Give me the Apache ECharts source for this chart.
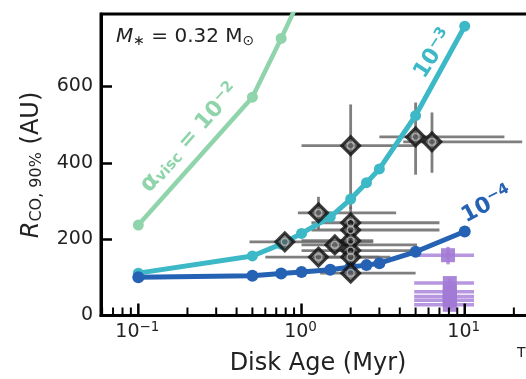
<!DOCTYPE html>
<html><head><meta charset="utf-8">
<script src="https://cdn.jsdelivr.net/npm/echarts@6/dist/echarts.min.js"></script>
<style>html,body{margin:0;padding:0;overflow:hidden;background:#fff}#c{width:560px;height:379px}</style>
</head><body><div id="c"></div>
<script>
// Viscous-evolution tracks: CO disk radius vs. disk age for three alpha values
const ageVisc2 = [0.1, 0.5, 0.75, 1.0];
const rVisc2 = [237, 572, 726, 840];
const ageModel = [0.1, 0.5, 0.75, 1.0, 1.5, 2.0, 2.5, 3.0, 5.0, 10];
const rVisc3 = [111, 156, 187, 215, 258, 305, 348, 384, 524, 758];
const rVisc4 = [100, 104, 110, 114, 120, 127, 132, 137, 167, 220];

// Observed disks (gray): age, radius and their error ranges
const obsAge   = [2.0, 5.0, 6.3, 1.27, 0.79, 1.6, 1.27, 2.0, 2.0, 2.0, 2.0, 2.0, 2.0];
const obsR     = [445, 468, 455, 269, 193, 185, 153, 243, 224, 196, 170, 153, 111];
const obsAgeLo = [1.0, 3.0, 4.2, 0.95, 0.48, 1.0, 0.6, 1.15, 1.15, 1.0, 1.0, 1.2, 1.3];
const obsAgeHi = [4.9, 17.5, 22.5, 3.8, 2.75, 5.1, 3.5, 7.0, 7.0, 2.75, 4.8, 3.0, 5.0];
const obsRLo   = [279, 369, 374, 225, 193, 185, 153, 200, 224, 196, 170, 153, 111];
const obsRHi   = [553, 558, 532, 311, 193, 185, 153, 285, 224, 196, 170, 153, 111];

// Older disks (purple)
const oldAge   = [7.9, 8.1, 8.1, 8.1, 8.1, 8.1];
const oldR     = [158, 85, 62, 50, 40, 28];
const oldAgeLo = [4.9, 4.9, 4.9, 4.9, 4.9, 4.9];
const oldAgeHi = [11.4, 11.4, 11.4, 11.4, 11.4, 11.4];
const oldRLo   = [134, 73, 50, 38, 28, 16];
const oldRHi   = [180, 97, 74, 62, 52, 40];

// Axis ticks
const xMajorTicks = [0.1, 1, 10];
const xMajorExp = ['\u22121', '0', '1'];
const xMinorTicks = [0.06, 0.07, 0.08, 0.09, 0.2, 0.3, 0.4, 0.5, 0.6, 0.7, 0.8, 0.9,
                     2, 3, 4, 5, 6, 7, 8, 9, 20];

const F = 'DejaVu Sans';
const GREEN = '#8fd4aa', CYAN = '#3db8c7', BLUE = '#2562b4';
const GRAY_BAR = 'rgba(105,105,105,0.85)', PURPLE = '#a27ad6';

function errorBars(color, width) {
  return function (params, api) {
    const x = api.value(0), y = api.value(1);
    const c = api.coord([x, y]);
    const xl = api.coord([api.value(2), y]);
    const xh = api.coord([api.value(3), y]);
    const yl = api.coord([x, api.value(4)]);
    const yh = api.coord([x, api.value(5)]);
    const st = { stroke: color, lineWidth: width };
    const kids = [{ type: 'line', shape: { x1: xl[0], y1: c[1], x2: xh[0], y2: c[1] }, style: st }];
    if (Math.abs(yl[1] - yh[1]) > 0.5) {
      kids.push({ type: 'line', shape: { x1: c[0], y1: yl[1], x2: c[0], y2: yh[1] }, style: st });
    }
    return { type: 'group', children: kids };
  };
}

const obsData = obsAge.map((a, i) => [a, obsR[i], obsAgeLo[i], obsAgeHi[i], obsRLo[i], obsRHi[i]]);
const oldData = oldAge.map((a, i) => [a, oldR[i], oldAgeLo[i], oldAgeHi[i], oldRLo[i], oldRHi[i]]);

const chart = echarts.init(document.getElementById('c'), null, { renderer: 'canvas' });
chart.setOption({
  animation: false,
  backgroundColor: '#fff',
  grid: { left: 101, top: 14, right: 17.4, bottom: 63.5, show: true, borderColor: '#000', borderWidth: 3, backgroundColor: 'transparent' },
  xAxis: {
    type: 'log', logBase: 10, min: 0.05906, max: 30,
    axisLine: { show: true, lineStyle: { color: '#000', width: 3 } },
    axisTick: { show: false }, axisLabel: { show: false }, splitLine: { show: false }, minorTick: { show: false }
  },
  yAxis: {
    type: 'value', min: 0, max: 790, interval: 200,
    axisLine: { show: true, lineStyle: { color: '#000', width: 3 } },
    axisTick: { show: true, inside: true, length: 11, lineStyle: { color: '#000', width: 2.5 } },
    axisLabel: { fontFamily: F, fontSize: 19, color: '#222', margin: 8, showMaxLabel: false },
    splitLine: { show: false }
  },
  series: [
    { type: 'custom', name: 'obsErr', renderItem: errorBars(GRAY_BAR, 2.8), data: obsData, encode: { x: 0, y: 1 }, z: 2, silent: true },
    { type: 'custom', name: 'oldErr', renderItem: errorBars('rgba(165,125,215,0.8)', 3.5), data: oldData, encode: { x: 0, y: 1 }, z: 2, silent: true },
    { type: 'line', name: 'visc2', data: ageVisc2.map((a, i) => [a, rVisc2[i]]), symbol: 'circle', symbolSize: 11,
      lineStyle: { color: GREEN, width: 4.5 }, itemStyle: { color: GREEN }, z: 3, clip: true },
    { type: 'line', name: 'visc3', data: ageModel.map((a, i) => [a, rVisc3[i]]), symbol: 'circle', symbolSize: 11,
      lineStyle: { color: CYAN, width: 5 }, itemStyle: { color: CYAN }, z: 3, clip: true },
    { type: 'line', name: 'visc4', data: ageModel.map((a, i) => [a, rVisc4[i]]), symbol: 'circle', symbolSize: 12,
      lineStyle: { color: BLUE, width: 5 }, itemStyle: { color: BLUE }, z: 3, clip: true },
    { type: 'scatter', name: 'obs', data: obsAge.map((a, i) => [a, obsR[i]]), symbol: 'diamond', symbolSize: 18,
      itemStyle: { color: 'rgba(85,85,85,0.9)', borderColor: '#111', borderWidth: 3 }, z: 4 },
    { type: 'scatter', name: 'obsCore', data: obsAge.map((a, i) => [a, obsR[i]]), symbol: 'circle', symbolSize: 7,
      itemStyle: { color: 'rgba(0,0,0,0)', borderColor: '#bdbdbd', borderWidth: 1.3 }, z: 5 },
    { type: 'scatter', name: 'old', data: oldAge.map((a, i) => [a, oldR[i]]), symbol: 'rect', symbolSize: 14,
      itemStyle: { color: PURPLE, opacity: 0.9 }, z: 4 },
    { type: 'custom', name: 'xMinor', data: xMinorTicks.map(v => [v, 0]), encode: { x: 0, y: 1 }, z: 6, silent: true,
      renderItem: (params, api) => {
        const p = api.coord([api.value(0), 0]);
        return { type: 'line', shape: { x1: p[0], y1: p[1], x2: p[0], y2: p[1] - 8 }, style: { stroke: '#000', lineWidth: 2 } };
      } },
    { type: 'custom', name: 'xMajor', data: xMajorTicks.map(v => [v, 0]), encode: { x: 0, y: 1 }, z: 6, silent: true,
      renderItem: (params, api) => {
        const p = api.coord([api.value(0), 0]);
        return { type: 'group', children: [
          { type: 'line', shape: { x1: p[0], y1: p[1], x2: p[0], y2: p[1] - 12 }, style: { stroke: '#000', lineWidth: 2.5 } },
          { type: 'text', x: p[0] - 1, y: p[1] + 17, style: {
              text: '{b|10}{s|' + xMajorExp[params.dataIndex] + '}', align: 'center', verticalAlign: 'middle',
              rich: { b: { fontFamily: F, fontSize: 19, fill: '#222' },
                      s: { fontFamily: F, fontSize: 13.5, fill: '#222', padding: [0, 0, 11, 0] } } } }
        ] };
      } }
  ],
  graphic: [
    { type: 'text', x: 32, y: 165, rotation: Math.PI / 2, style: {
        text: '{r|R}{s|CO, 90%}{b| (AU)}', align: 'center', verticalAlign: 'middle',
        rich: { r: { fontFamily: F, fontSize: 24, fontStyle: 'italic', fill: '#222' },
                s: { fontFamily: F, fontSize: 16, fill: '#222', padding: [10, 0, 0, 0] },
                b: { fontFamily: F, fontSize: 24, fill: '#222' } } } },
    { type: 'text', x: 318, y: 364, style: { text: 'Disk Age (Myr)', align: 'center', verticalAlign: 'middle',
        fontFamily: F, fontSize: 24, fill: '#222' } },
    { type: 'text', x: 116, y: 37, style: {
        text: '{i|M}{s|\u2217}{b| = 0.32 M}{s|\u2299}', align: 'left', verticalAlign: 'middle',
        rich: { i: { fontFamily: F, fontSize: 20, fontStyle: 'italic', fill: '#222' },
                b: { fontFamily: F, fontSize: 20, fill: '#222' },
                s: { fontFamily: F, fontSize: 14, fill: '#222', padding: [8, 0, 0, 0] } } } },
    { type: 'text', x: 190, y: 138, rotation: 48.3 * Math.PI / 180, style: {
        text: '{a|\u03b1}{s|visc}{b| = 10}{p|\u22122}', align: 'center', verticalAlign: 'middle',
        rich: { a: { fontFamily: F, fontSize: 24, fontWeight: 'bold', fill: GREEN },
                s: { fontFamily: F, fontSize: 15, fontWeight: 'bold', fill: GREEN, padding: [8, 0, 0, 0] },
                b: { fontFamily: F, fontSize: 22, fontWeight: 'bold', fill: GREEN },
                p: { fontFamily: F, fontSize: 15, fontWeight: 'bold', fill: GREEN, padding: [0, 0, 11, 0] } } } },
    { type: 'text', x: 434, y: 54, rotation: 57 * Math.PI / 180, style: {
        text: '{b|10}{p|\u22123}', align: 'center', verticalAlign: 'middle',
        rich: { b: { fontFamily: F, fontSize: 22, fontWeight: 'bold', fill: CYAN },
                p: { fontFamily: F, fontSize: 15, fontWeight: 'bold', fill: CYAN, padding: [0, 0, 11, 0] } } } },
    { type: 'text', x: 487, y: 205, rotation: 28 * Math.PI / 180, style: {
        text: '{b|10}{p|\u22124}', align: 'center', verticalAlign: 'middle',
        rich: { b: { fontFamily: F, fontSize: 22, fontWeight: 'bold', fill: BLUE },
                p: { fontFamily: F, fontSize: 15, fontWeight: 'bold', fill: BLUE, padding: [0, 0, 11, 0] } } } },
    { type: 'text', x: 517, y: 353, style: { text: 'T', align: 'left', verticalAlign: 'middle',
        fontFamily: F, fontSize: 14, fill: '#222' } }
  ]
});
</script></body></html>
